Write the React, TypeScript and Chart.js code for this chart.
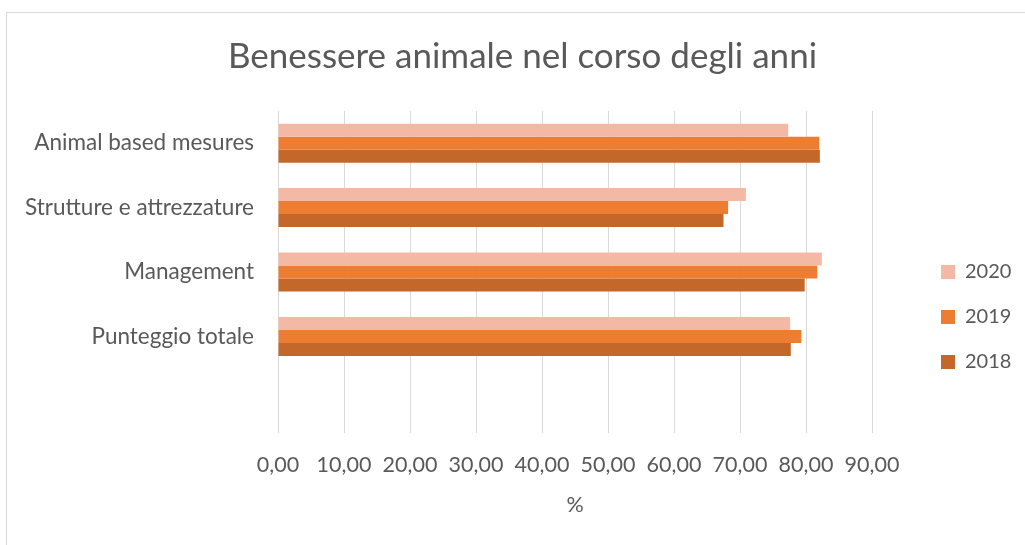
import React, { useEffect, useRef } from "react";
import { Chart, registerables } from "chart.js";

Chart.register(...registerables);

const TITLE = "Benessere animale nel corso degli anni";
const AXIS_TITLE = "%";
const categories = ["Animal based mesures", "Strutture e attrezzature", "Management", "Punteggio totale", ""];
const seriesNames = ["2020", "2019", "2018"];
const values2020 = [77.3, 70.9, 82.4, 77.6, null];
const values2019 = [82.0, 68.2, 81.7, 79.3, null];
const values2018 = [82.1, 67.5, 79.8, 77.7, null];
const seriesColors = ["#F4B9A5", "#ED7D31", "#C4672B"];
const X_MIN = 0;
const X_MAX = 90;
const X_STEP = 10;

const FONT = "Lato, 'Open Sans', sans-serif";
const TEXT_COLOR = "#595959";
const GRID_COLOR = "#D9D9D9";

export default function App() {
  const ref = useRef<HTMLCanvasElement | null>(null);

  useEffect(() => {
    if (!ref.current) return;
    const legendFix = {
      id: "legendFix",
      beforeLayout(chart: any) {
        const lg = chart.legend;
        if (lg && !lg.__patched) {
          const orig = lg.fit.bind(lg);
          lg.fit = function () {
            orig();
            this.width = 153;
          };
          lg.__patched = true;
        }
      },
      afterLayout(chart: any) {
        const lg = chart.legend;
        if (!lg) return;
        const w = lg.width;
        lg.left = 909;
        lg.right = 909 + w;
        lg.top = 224;
        lg.bottom = 532;
      },
    };

    const chart = new Chart(ref.current, {
      type: "bar",
      data: {
        labels: categories,
        datasets: [
          { label: seriesNames[0], data: values2020, backgroundColor: seriesColors[0] },
          { label: seriesNames[1], data: values2019, backgroundColor: seriesColors[1] },
          { label: seriesNames[2], data: values2018, backgroundColor: seriesColors[2] },
        ],
      },
      options: {
        indexAxis: "y",
        responsive: false,
        animation: false,
        maintainAspectRatio: false,
        layout: { padding: { left: 13, right: 0, top: 0, bottom: 0 } },
        datasets: {
          bar: { categoryPercentage: 0.606, barPercentage: 1.0 },
        },
        plugins: {
          title: {
            display: true,
            text: TITLE,
            color: TEXT_COLOR,
            font: { family: FONT, size: 35, weight: "normal", lineHeight: 1.2 },
            padding: { top: 23, bottom: 33 },
          },
          legend: {
            display: true,
            position: "right",
            align: "start",
            labels: {
              color: TEXT_COLOR,
              font: { family: FONT, size: 20 },
              boxWidth: 14,
              boxHeight: 14,
              padding: 25,
            },
          },
          tooltip: { enabled: false },
        },
        scales: {
          x: {
            type: "linear",
            min: X_MIN,
            max: X_MAX,
            afterFit: (s: any) => {
              s.height = 112;
            },
            ticks: {
              stepSize: X_STEP,
              color: TEXT_COLOR,
              font: { family: FONT, size: 21.5 },
              padding: 19,
              maxRotation: 0,
              callback: (v: any) => Number(v).toFixed(2).replace(".", ","),
            },
            grid: { color: GRID_COLOR, drawTicks: false, lineWidth: 1 },
            border: { display: false },
            title: {
              display: true,
              text: AXIS_TITLE,
              color: TEXT_COLOR,
              font: { family: FONT, size: 21.5, lineHeight: 1.2 },
              padding: { top: 0, bottom: 27 },
            },
          },
          y: {
            afterFit: (s: any) => {
              s.width = 258;
            },
            ticks: {
              color: TEXT_COLOR,
              font: { family: FONT, size: 22.5 },
              padding: 24,
            },
            grid: { display: false, drawTicks: false },
            border: { display: false },
          },
        },
      },
      plugins: [legendFix],
    } as any);
    return () => chart.destroy();
  }, []);

  return (
    <div style={{ position: "absolute", left: 0, top: 0, width: 1025, height: 545, overflow: "hidden", background: "#fff" }}>
      <div
        style={{
          position: "absolute",
          left: 6,
          top: 12,
          width: 1040,
          height: 560,
          border: "1px solid #D9D9D9",
          boxSizing: "border-box",
        }}
      />
      <canvas ref={ref} width={1018} height={532} style={{ position: "absolute", left: 7, top: 13, width: 1018, height: 532 }} />
    </div>
  );
}
